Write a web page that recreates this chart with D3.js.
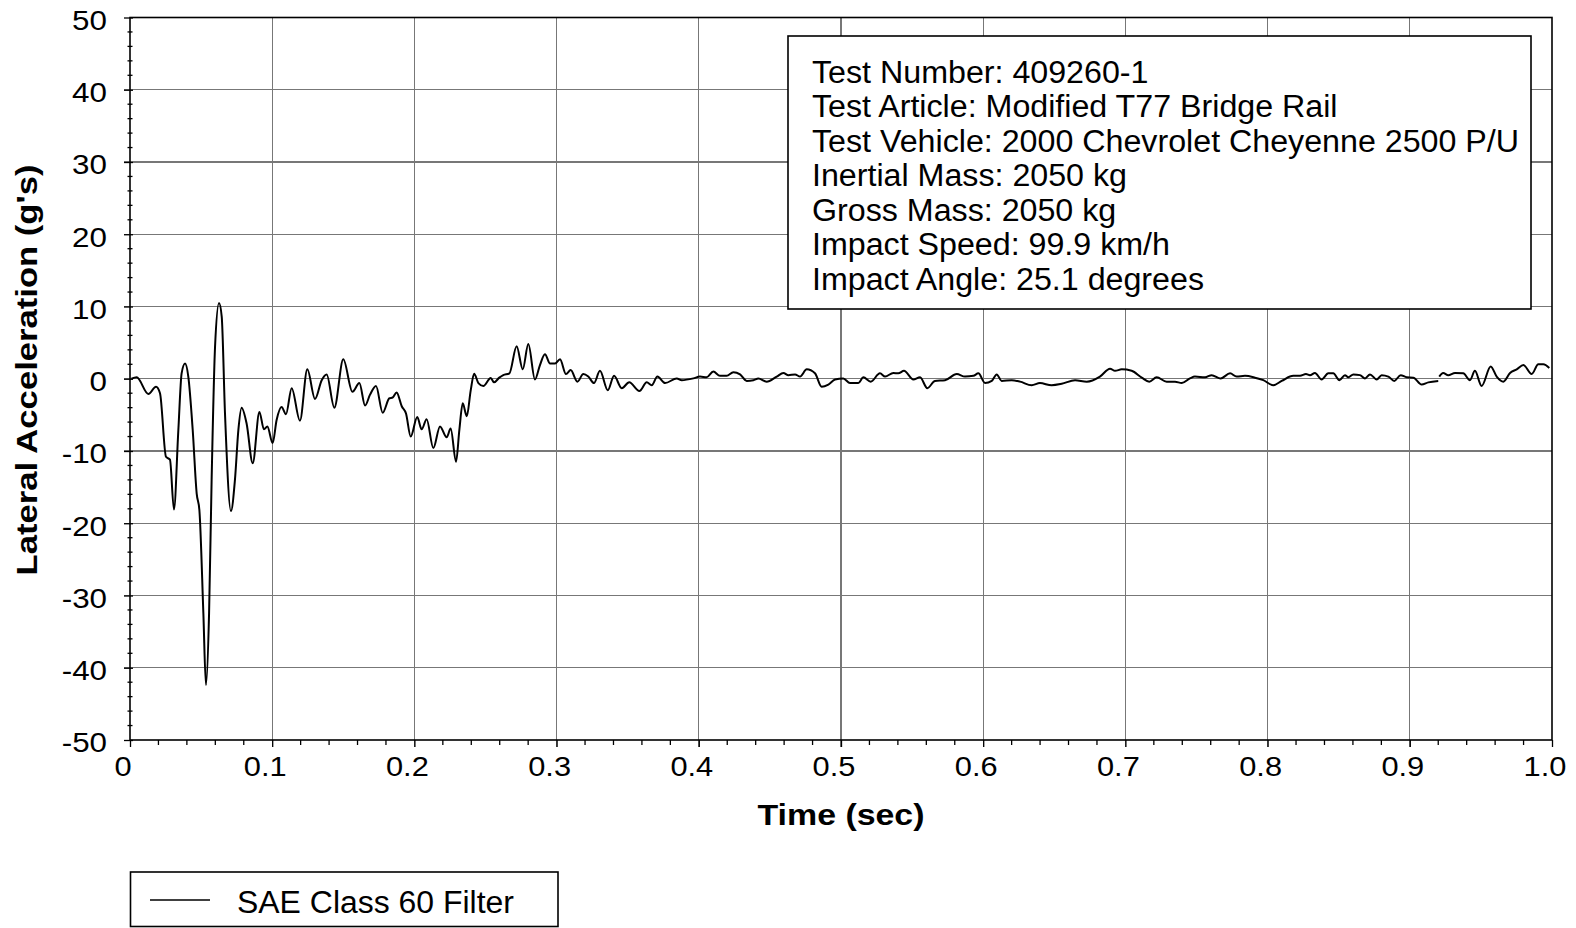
<!DOCTYPE html>
<html>
<head>
<meta charset="utf-8">
<script src="https://cdn.jsdelivr.net/npm/d3@7"></script>
<style>
  html, body { margin: 0; padding: 0; background: #fff; }
  svg { display: block; font-family: "Liberation Sans", Arial, sans-serif; }
</style>
</head>
<body>
<svg id="chart" width="1576" height="928"></svg>
<script>
// ---- Data ----
const timeSec = [0.001,0.0047,0.0129,0.0183,0.0211,0.0253,0.0281,0.0309,0.034,0.0363,0.0387,0.041,0.0441,0.0469,0.0488,0.0516,0.0534,0.0556,0.0574,0.0598,0.0626,0.0645,0.0668,0.071,0.0738,0.0762,0.0785,0.082,0.0863,0.091,0.0942,0.0966,0.1003,0.1031,0.1066,0.1097,0.1137,0.1195,0.1247,0.1301,0.1348,0.1383,0.1437,0.15,0.1564,0.1613,0.1653,0.1688,0.173,0.1777,0.1824,0.1847,0.1875,0.1911,0.1941,0.1974,0.202,0.2051,0.2086,0.2133,0.218,0.2227,0.2255,0.2293,0.2316,0.234,0.2368,0.2396,0.242,0.245,0.2485,0.2537,0.256,0.2597,0.2625,0.2668,0.2719,0.2762,0.2801,0.2848,0.2883,0.2918,0.2954,0.2989,0.3024,0.3066,0.3099,0.3146,0.3188,0.3223,0.3263,0.3305,0.336,0.3404,0.3458,0.3511,0.3582,0.3634,0.3669,0.3709,0.3763,0.3845,0.388,0.3962,0.4008,0.4055,0.4102,0.4149,0.4196,0.4243,0.429,0.4337,0.4384,0.4419,0.4477,0.4548,0.4595,0.463,0.4677,0.4712,0.4759,0.4817,0.4864,0.4911,0.4958,0.5016,0.5063,0.5122,0.5157,0.5209,0.5274,0.531,0.5368,0.5403,0.5443,0.5509,0.5556,0.5607,0.5661,0.5732,0.5814,0.5872,0.5931,0.5966,0.6013,0.606,0.6095,0.613,0.62,0.6259,0.6341,0.6399,0.6481,0.6552,0.6646,0.6728,0.6821,0.6892,0.6927,0.6974,0.7044,0.7115,0.7168,0.722,0.729,0.7349,0.7396,0.7454,0.7489,0.756,0.7607,0.767,0.7736,0.7782,0.7841,0.7911,0.797,0.804,0.8099,0.8181,0.8228,0.827,0.8298,0.8333,0.838,0.8427,0.8462,0.8505,0.8544,0.8568,0.8603,0.865,0.8685,0.872,0.8767,0.8802,0.8849,0.8891,0.8936,0.8978,0.9025,0.9083,0.913,0.92,0.9203,0.9207,0.9235,0.927,0.9318,0.9376,0.9423,0.9458,0.9505,0.9569,0.9611,0.9658,0.9705,0.9752,0.9799,0.9857,0.9904,0.9939,0.9981];
const lateralAccel = [0,0.2,-2.1,-1.1,-2.0,-10.8,-11.2,-18.1,-7.1,0.75,2.1,0.3,-7.1,-15.9,-18.2,-32.5,-42.4,-32.5,-14,4.4,10.5,8.6,-4.8,-18.3,-14,-7.1,-4.0,-6.2,-11.7,-4.6,-7.0,-6.6,-8.9,-5.7,-3.9,-4.9,-1.3,-5.8,1.3,-2.8,-0.2,0.6,-4.0,2.7,-1.8,-0.6,-3.7,-2.2,-1.0,-4.7,-2.7,-2.6,-1.9,-3.8,-4.8,-8.0,-5.3,-7.0,-5.6,-9.6,-6.6,-8.1,-6.9,-11.5,-7.1,-3.4,-5.2,-1.6,0.7,-0.6,-1.0,0.1,-0.5,0.15,0.5,0.75,4.5,1.3,4.8,-0.1,1.9,3.4,2.1,2.1,2.7,0.65,1.2,-0.4,0.65,0.3,-0.6,1.1,-1.6,0.4,-1.3,-0.5,-1.7,-0.5,-0.9,0.3,-0.6,0.05,-0.2,0.05,0.3,0.2,1.0,0.4,0.4,0.9,0.6,-0.3,-0.2,0.05,-0.4,0.3,0.8,0.5,0.6,0.3,1.3,0.75,-1.1,-0.8,-0.1,0.05,-0.6,-0.6,0.2,-0.4,0.75,0.3,0.8,0.75,1.1,-0.1,0.2,-1.3,-0.3,-0.2,0.65,0.3,0.4,0.75,-0.6,-0.3,0.6,-0.3,-0.2,-0.4,-0.9,-0.6,-0.9,-0.7,-0.2,-0.4,0.3,1.4,1.1,1.3,1.1,0.15,-0.4,0.2,-0.4,-0.4,-0.6,0.05,0.3,0.2,0.5,0.05,0.75,0.3,0.4,0.15,-0.2,-0.9,-0.3,0.4,0.4,0.65,0.5,0.8,-0.1,0.75,0.75,-0.2,0.5,0.2,0.6,0.5,0.05,0.6,-0.1,0.5,0.3,-0.3,0.5,0.2,0.15,-0.8,-0.5,-0.3,null,0.3,0.8,0.5,0.8,0.75,-0.2,1.1,-1.0,1.7,0.3,-0.4,0.8,1.3,1.9,0.65,2.0,2.0,1.5];

const xTickValues = [0,0.1,0.2,0.3,0.4,0.5,0.6,0.7,0.8,0.9,1.0];
const xTickLabels = ["0","0.1","0.2","0.3","0.4","0.5","0.6","0.7","0.8","0.9","1.0"];
const yTickValues = [-50,-40,-30,-20,-10,0,10,20,30,40,50];
const yTickLabels = ["-50","-40","-30","-20","-10","0","10","20","30","40","50"];

const infoLines = [
  "Test Number: 409260-1",
  "Test Article: Modified T77 Bridge Rail",
  "Test Vehicle: 2000 Chevrolet Cheyenne 2500 P/U",
  "Inertial Mass: 2050 kg",
  "Gross Mass: 2050 kg",
  "Impact Speed: 99.9 km/h",
  "Impact Angle: 25.1 degrees"
];
const xAxisTitle = "Time (sec)";
const yAxisTitle = "Lateral Acceleration (g's)";
const legendLabel = "SAE Class 60 Filter";

// ---- Layout ----
const L = 130, R = 1552, T = 17.5, B = 740;
const svg = d3.select("#chart");

const x = d3.scaleLinear().domain([0, 1]).range([L, R]);
const y = d3.scaleLinear().domain([-50, 50]).range([B, T]);

function stretch(sel, f) {
  sel.each(function () {
    const len = this.getComputedTextLength();
    d3.select(this).attr("textLength", len * f).attr("lengthAdjust", "spacingAndGlyphs");
  });
}

// Grid
const grid = svg.append("g");
grid.selectAll("line.vx").data(xTickValues.slice(1, -1)).join("line")
  .attr("x1", d => x(d)).attr("x2", d => x(d)).attr("y1", T).attr("y2", B + 7)
  .attr("stroke", "#777").attr("stroke-width", 1.2).attr("shape-rendering", "crispEdges");
grid.selectAll("line.hy").data(yTickValues.slice(1, -1)).join("line")
  .attr("x1", L - 6).attr("x2", R).attr("y1", d => y(d)).attr("y2", d => y(d))
  .attr("stroke", "#777").attr("stroke-width", 1.2).attr("shape-rendering", "crispEdges");

// Minor ticks
const xMinor = d3.range(0, 51).map(i => i / 50).filter(v => Math.round(v * 50) % 5 !== 0);
svg.append("g").selectAll("line").data(xMinor).join("line")
  .attr("x1", d => x(d)).attr("x2", d => x(d)).attr("y1", B).attr("y2", B + 5)
  .attr("stroke", "#000").attr("stroke-width", 1.3);
const yMinor = d3.range(-50, 51, 2).filter(v => v % 10 !== 0);
svg.append("g").selectAll("line").data(yMinor).join("line")
  .attr("x1", L - 2.5).attr("x2", L + 2.5).attr("y1", d => y(d)).attr("y2", d => y(d))
  .attr("stroke", "#000").attr("stroke-width", 1.3);

// Axes
const xAxis = d3.axisBottom(x).tickValues(xTickValues).tickFormat((d, i) => xTickLabels[i]).tickSize(7).tickPadding(9);
const gx = svg.append("g").attr("transform", `translate(0,${B})`).call(xAxis);
gx.select(".domain").remove();
gx.selectAll(".tick line").attr("stroke", "#000").attr("stroke-width", 1.3);
gx.selectAll(".tick text").attr("font-size", 28).attr("fill", "#000").attr("dx", -7.5)
  .attr("font-family", "Liberation Sans, Arial, sans-serif");
stretch(gx.selectAll(".tick text"), 1.1);

const yAxis = d3.axisLeft(y).tickValues(yTickValues).tickFormat((d, i) => yTickLabels[i]).tickSize(6).tickPadding(17);
const gy = svg.append("g").attr("transform", `translate(${L},0)`).call(yAxis);
gy.select(".domain").remove();
gy.selectAll(".tick line").attr("stroke", "#000").attr("stroke-width", 1.3).attr("x2", -6).attr("x1", 3);
gy.selectAll(".tick text").attr("font-size", 28).attr("fill", "#000").attr("dy", "0.42em")
  .attr("font-family", "Liberation Sans, Arial, sans-serif");
stretch(gy.selectAll(".tick text"), 1.12);

// Frame
svg.append("rect").attr("x", L).attr("y", T).attr("width", R - L).attr("height", B - T)
  .attr("fill", "none").attr("stroke", "#000").attr("stroke-width", 1.6);

// Data line
const pts = timeSec.map((t, i) => ({ t, v: lateralAccel[i] }));
const line = d3.line().defined(d => d.v !== null).x(d => x(d.t)).y(d => y(d.v)).curve(d3.curveMonotoneX);
svg.append("path").datum(pts).attr("d", line)
  .attr("fill", "none").attr("stroke", "#000").attr("stroke-width", 2).attr("stroke-linejoin", "round");

// Info box
const bx = 788, by = 36, bw = 743, bh = 273;
svg.append("rect").attr("x", bx).attr("y", by).attr("width", bw).attr("height", bh)
  .attr("fill", "#fff").attr("stroke", "#000").attr("stroke-width", 1.6);
const info = svg.append("g").selectAll("text").data(infoLines).join("text")
  .attr("x", 812).attr("y", (d, i) => 82.5 + i * 34.5)
  .attr("font-size", 31).attr("fill", "#000").text(d => d);
let maxLen = 0;
info.each(function () { maxLen = Math.max(maxLen, this.getComputedTextLength()); });
stretch(info, 707 / maxLen);

// Axis titles
svg.append("text").attr("x", x(0.5)).attr("y", 825).attr("text-anchor", "middle")
  .attr("font-size", 30).attr("font-weight", "bold").attr("textLength", 167)
  .attr("lengthAdjust", "spacingAndGlyphs").text(xAxisTitle);
svg.append("text").attr("transform", "translate(37,370) rotate(-90)").attr("text-anchor", "middle")
  .attr("font-size", 30).attr("font-weight", "bold").attr("textLength", 411)
  .attr("lengthAdjust", "spacingAndGlyphs").text(yAxisTitle);

// Legend
svg.append("rect").attr("x", 130.5).attr("y", 872).attr("width", 427.5).attr("height", 54.5)
  .attr("fill", "#fff").attr("stroke", "#000").attr("stroke-width", 1.6);
svg.append("line").attr("x1", 150).attr("x2", 210).attr("y1", 900).attr("y2", 900)
  .attr("stroke", "#000").attr("stroke-width", 1.6);
svg.append("text").attr("x", 237).attr("y", 913).attr("font-size", 31).attr("fill", "#000")
  .attr("textLength", 277).attr("lengthAdjust", "spacingAndGlyphs").text(legendLabel);
</script>
</body>
</html>
